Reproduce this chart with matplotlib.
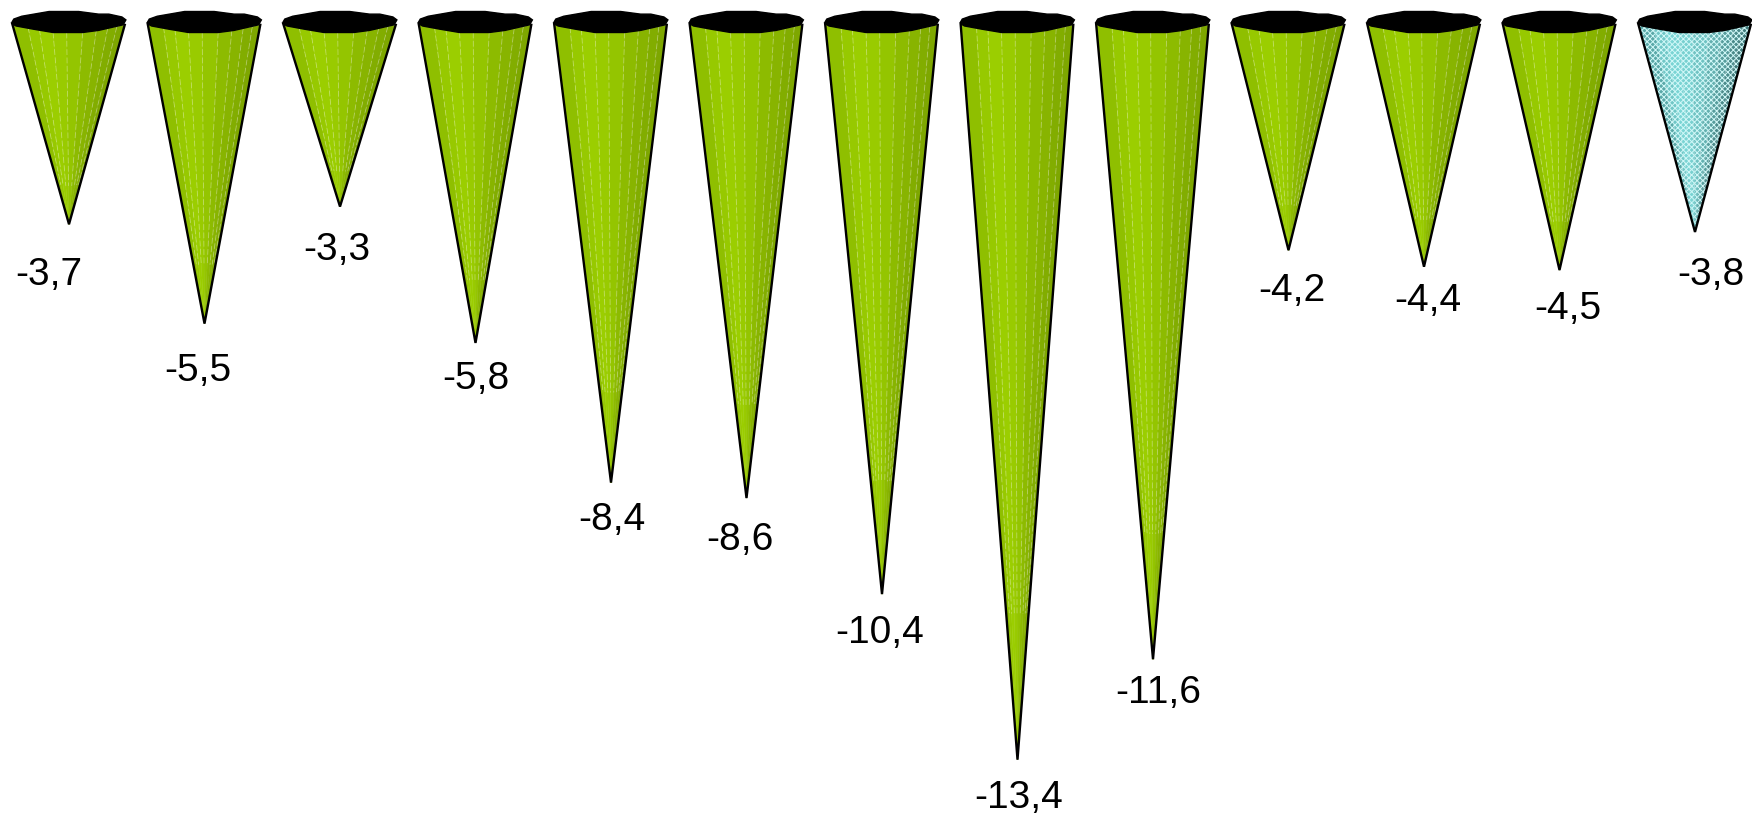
import numpy as np
import matplotlib
matplotlib.use('Agg')
import matplotlib.pyplot as plt

plt.rcParams['font.family'] = ['Liberation Sans', 'DejaVu Sans']
plt.rcParams['hatch.linewidth'] = 0.7

# values (cone tips), and the labels printed under them
values = [-3.70, -5.50, -3.38, -5.85, -8.38, -8.66, -10.40, -13.40, -11.58, -4.17, -4.47, -4.53, -3.84]
labels = ['-3,7', '-5,5', '-3,3', '-5,8', '-8,4', '-8,6', '-10,4', '-13,4', '-11,6', '-4,2', '-4,4', '-4,5', '-3,8']
# label offset from the tip, in pixels
label_dx = [-20, -7, -3, 0, 1, -7, -2, 1, 5, 3, 4, 8, 16]
label_dy = [51, 47, 43, 36, 37, 42, 39, 38, 34, 41, 34, 39, 43]

green_shades = ['#8fbf00', '#97c900', '#9bce00', '#99cb00', '#94c500', '#8dbb00', '#88b400', '#82ad00', '#7ea700', '#79a100']
cyan_shades = ['#5aa8a8', '#70c6c6', '#7ad4d4', '#78d0d0', '#70c2c2', '#64b0b0', '#569c9c', '#4a8a8a', '#3f7a7a', '#366b6b']

# rim outline, relative to half width / half height
rim_x = [-1.0, -0.97, -0.83, -0.35, 0.17, 0.52, 0.70, 0.93, 1.0, 0.95, 0.52, 0.24, -0.28, -0.63, -0.93, -0.99]
rim_y = [0.0, -0.28, -0.55, -1.0, -1.0, -0.75, -0.75, -0.48, -0.2, 0.27, 0.80, 1.0, 1.0, 0.68, 0.38, 0.2]
# front facet edges along the rim
edge_x = np.array([-1.0, -0.72, -0.52, -0.28, -0.04, 0.24, 0.48, 0.68, 0.84, 0.98])
edge_y = np.array([0.12, 0.50, 0.70, 1.0, 1.0, 1.0, 0.80, 0.60, 0.45, 0.27])

W = 1752
H = 815
STEP = 135.5
X0 = 69
ZERO_PX = 20
PX_PER_UNIT = 55.2
HALF_W = 0.42
HALF_H = 10.5 / PX_PER_UNIT
RIM_Y = -2 / PX_PER_UNIT

fig = plt.figure(figsize=(W / 100, H / 100), dpi=100)
ax = fig.add_axes([0, 0, 1, 1])
ax.set_xlim(-X0 / STEP, (W - X0) / STEP)
ax.set_ylim(-(H - ZERO_PX) / PX_PER_UNIT, ZERO_PX / PX_PER_UNIT)
ax.axis('off')


def draw_cone(x, tip, shades, dither):
    ex = x + edge_x * HALF_W
    ey = RIM_Y - edge_y * HALF_H
    for i in range(len(ex) - 1):
        pts = [(ex[i], ey[i]), (ex[i + 1], ey[i + 1]), (x, tip)]
        ax.fill(*zip(*pts), color=shades[i], lw=0.3, zorder=2)
        if dither:
            ax.fill(*zip(*pts), facecolor='none', edgecolor='#d0f8f8', hatch='xxxxxx', lw=0, zorder=2.1)
        if i > 0:
            # facet seams fade out before the tip
            end_x = ex[i] + (x - ex[i]) * 0.8
            end_y = ey[i] + (tip - ey[i]) * 0.8
            ax.plot([ex[i], end_x], [ey[i], end_y], color='white', lw=0.6, alpha=0.35, ls=(0, (7, 3)), zorder=2.2)
    rx = x + np.array(rim_x) * HALF_W
    ry = RIM_Y - np.array(rim_y) * HALF_H
    ax.fill(rx, ry, color='black', lw=1, zorder=4)
    ax.plot([ex[0], x, ex[-1]], [ey[0], tip, ey[-1]], color='black', lw=1.7, zorder=3, solid_joinstyle='miter')


for i, v in enumerate(values):
    last = i == len(values) - 1
    draw_cone(i, v, cyan_shades if last else green_shades, last)
    ax.annotate(labels[i], (i, v), xytext=(label_dx[i] * 0.72, -label_dy[i] * 0.72), textcoords='offset points',
                ha='center', va='center', fontsize=28, color='black', zorder=5)

fig.savefig('out.png', dpi=100)
